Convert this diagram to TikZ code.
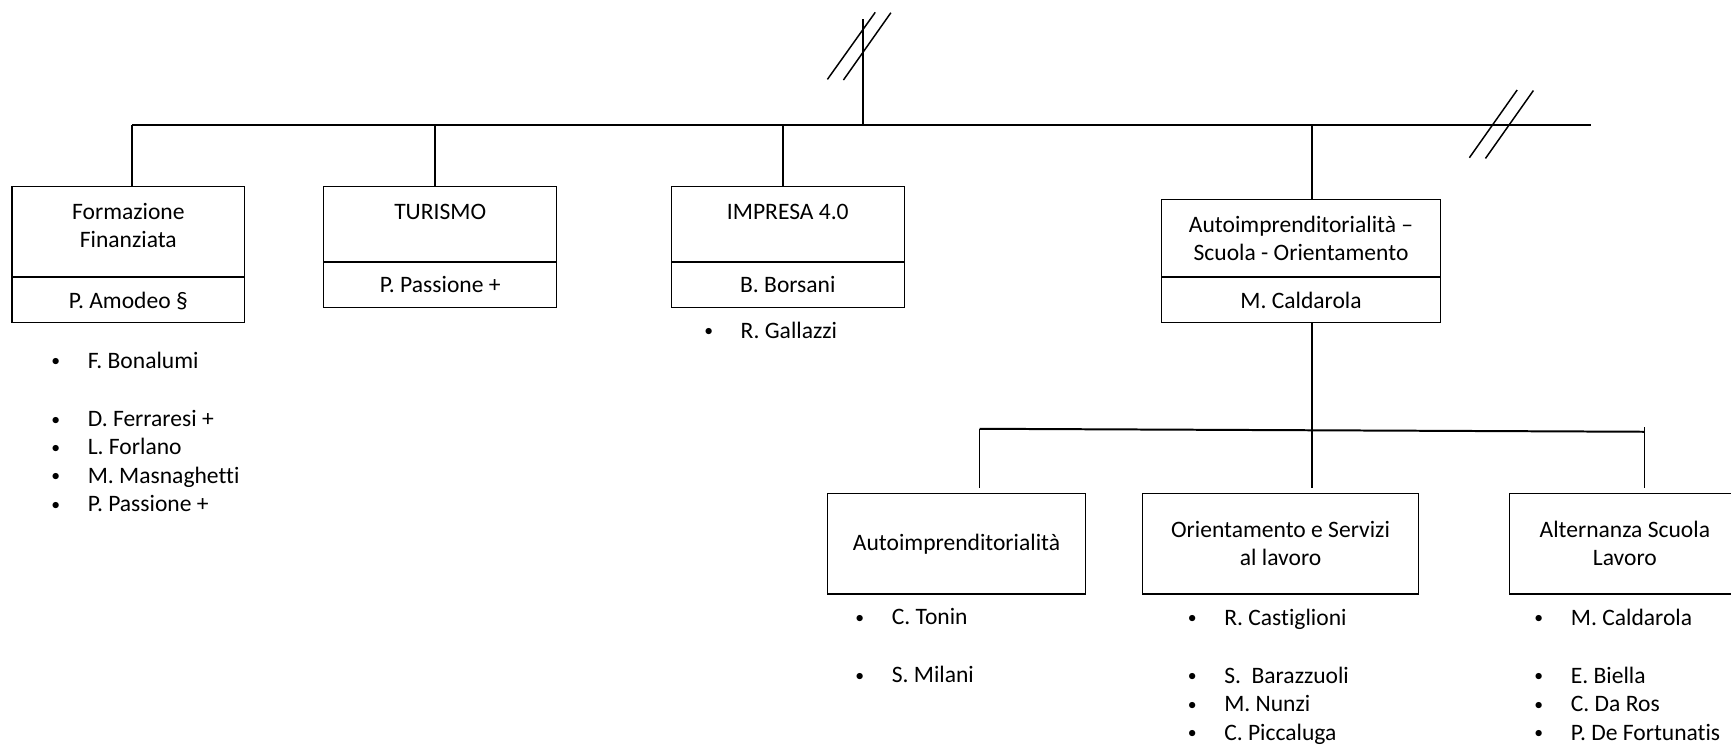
\documentclass[tikz,border=0pt]{standalone}
\usepackage{fontspec}
\setmainfont{Carlito}[Ligatures=NoCommon]
\usepackage{tikz}

% testo in cella: altezza, larghezza, prima linea di base, testo
\newcommand{\cella}[4]{\parbox[c][#1][t]{#2}{\centering\rule{0pt}{#3}#4}}
% voce di elenco puntato
\newcommand{\voce}[1]{\makebox[43.5pt][c]{\raisebox{1pt}{\scalebox{0.75}{•}}}#1}

\begin{document}
\begin{tikzpicture}[x=0.75pt,y=0.75pt,yscale=-1,xscale=1,
  box/.style={draw, line width=0.7pt, inner sep=0pt, anchor=north west, font=\fontsize{16}{19.1}\selectfont},
  elenco/.style={inner sep=0pt, anchor=base west, font=\fontsize{16}{19.3}\selectfont},
  barra/.style={line width=1.35pt},
  ramo/.style={line width=1pt},
  taglio/.style={line width=1pt}]
\useasboundingbox (0,0) rectangle (1568,675.8);

% Boxes, first level
\node[box] (formH) at (10.4,168.2) {\cella{61.35pt}{158.1pt}{22.35pt}{Formazione\\Finanziata}};
\node[box] (formN) at (formH.south west) {\cella{30.8pt}{158.1pt}{21pt}{P. Amodeo §}};
\node[box] (turH) at (293,168.2) {\cella{51.2pt}{157.9pt}{22.35pt}{TURISMO}};
\node[box] (turN) at (turH.south west) {\cella{30.5pt}{157.9pt}{20.6pt}{P. Passione +}};
\node[box] (impH) at (607.7,168.2) {\cella{51.2pt}{158.2pt}{22.35pt}{IMPRESA 4.0}};
\node[box] (impN) at (impH.south west) {\cella{30.5pt}{158.2pt}{20.6pt}{B. Borsani}};
\node[box] (autH) at (1051.4,180.6) {\cella{52.05pt}{190pt}{22.05pt}{Autoimprenditorialità –\\Scuola - Orientamento}};
\node[box] (autN) at (autH.south west) {\cella{30.8pt}{190pt}{21pt}{M. Caldarola}};

% Boxes, second level
\node[box] (aiB) at (749,446.4) {\cella{68.4pt}{175.5pt}{38.9pt}{Autoimprenditorialità}};
\node[box] (orB) at (1034.7,446.4) {\cella{68.4pt}{187.2pt}{29.85pt}{Orientamento e Servizi\\al lavoro}};
\node[box] (alB) at (1366.6,446.4) {\cella{68.4pt}{157.2pt}{29.85pt}{Alternanza Scuola\\Lavoro}};

% Text Node
\node[elenco] (formL) at (21.3,333.7) {\begin{tabular}[t]{@{}l@{}}\voce{F. Bonalumi}\\[20.2pt]\voce{D. Ferraresi +}\\\voce{L. Forlano}\\\voce{M. Masnaghetti}\\\voce{P. Passione +}\end{tabular}};
\node[elenco] (impL) at (612.7,306.5) {\voce{R. Gallazzi}};
\node[elenco] (aiL) at (749.6,566) {\begin{tabular}[t]{@{}l@{}}\voce{C. Tonin}\\[20.2pt]\voce{S. Milani}\end{tabular}};
\node[elenco] (orL) at (1050.7,566.3) {\begin{tabular}[t]{@{}l@{}}\voce{R. Castiglioni}\\[20.2pt]\voce{S.\ \ Barazzuoli}\\\voce{M. Nunzi}\\\voce{C. Piccaluga}\end{tabular}};
\node[elenco] (alL) at (1364.7,566.3) {\begin{tabular}[t]{@{}l@{}}\voce{M. Caldarola}\\[20.2pt]\voce{E. Biella}\\\voce{C. Da Ros}\\\voce{P. De Fortunatis}\end{tabular}};

% Main bar and branches
\coordinate (barL) at (119.6,113.3);
\coordinate (barR) at (1441.4,113.3);
\coordinate (topS) at (781.7,17.5);
\coordinate (jTur) at (394.2,113.3);
\coordinate (jImp) at (709.4,113.3);
\coordinate (jAut) at (1188.4,113.3);
\draw[barra] (barL) -- (barR);
\draw[ramo] (topS) -- (topS |- barL);
\draw[ramo] (barL) -- (barL |- formH.north);
\draw[ramo] (jTur) -- (jTur |- turH.north);
\draw[ramo] (jImp) -- (jImp |- impH.north);
\draw[ramo] (jAut) -- (jAut |- autH.north);

% Second bar and branches
\coordinate (sbL) at (887.3,388.4);
\coordinate (sbR) at (1489.8,391.1);
\draw[barra] (sbL) -- (sbR);
\draw[ramo,shorten >=3pt] (jAut |- autN.south) -- (jAut |- orB.north);
\draw[ramo,shorten >=3pt] (sbL) -- (sbL |- aiB.north);
\draw[ramo,shorten >=3pt,shorten <=-3pt] (sbR) -- (sbR |- alB.north);

% Break marks
\draw[taglio] (749.5,71.9) -- (792.8,11.2);
\draw[taglio] (764,72.5) -- (807,11.5);
\draw[taglio] (1331,142.9) -- (1374.3,81.5);
\draw[taglio] (1345.6,143.5) -- (1389,82);

\end{tikzpicture}
\end{document}
